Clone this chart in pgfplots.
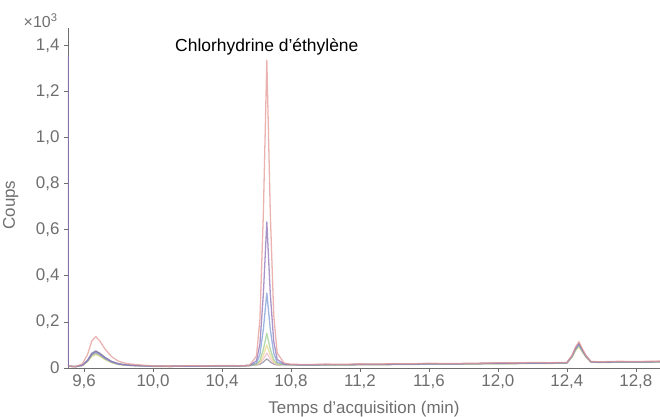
\documentclass[border=0pt]{standalone}
\usepackage{fontspec}
\setmainfont{Liberation Sans}
\usepackage{pgfplots}
\usepackage{pgfplotstable}
\pgfplotsset{compat=1.18}
\definecolor{cA}{HTML}{E39A96}
\definecolor{cB}{HTML}{8E72B5}
\definecolor{cC}{HTML}{7E9BD6}
\definecolor{cD}{HTML}{9CCC8F}
\definecolor{cE}{HTML}{ECD98A}
\definecolor{cF}{HTML}{F0B8C8}
\definecolor{cG}{HTML}{8A8894}
\definecolor{tickgray}{HTML}{6E6E6E}
\pgfplotstableread{
x      A     B     C     D     E     F     G
9.510  0.008 0.008 0.008 0.008 0.008 0.008 0.008
9.550  0.006 0.006 0.006 0.006 0.006 0.006 0.006
9.590  0.018 0.012 0.012 0.011 0.011 0.011 0.012
9.620  0.058 0.032 0.031 0.029 0.027 0.029 0.033
9.645  0.117 0.062 0.059 0.054 0.050 0.054 0.064
9.668  0.136 0.072 0.068 0.063 0.058 0.063 0.074
9.690  0.119 0.063 0.060 0.056 0.051 0.056 0.065
9.720  0.084 0.046 0.043 0.040 0.037 0.040 0.047
9.760  0.049 0.028 0.026 0.025 0.023 0.025 0.028
9.800  0.029 0.018 0.017 0.016 0.015 0.016 0.018
9.850  0.019 0.013 0.012 0.012 0.011 0.012 0.013
9.900  0.015 0.011 0.010 0.010 0.010 0.010 0.011
10.00  0.009 0.008 0.008 0.007 0.007 0.008 0.008
10.10  0.008 0.007 0.008 0.007 0.007 0.007 0.008
10.20  0.010 0.008 0.009 0.008 0.008 0.009 0.009
10.30  0.009 0.008 0.008 0.008 0.007 0.008 0.008
10.40  0.011 0.009 0.010 0.009 0.009 0.010 0.010
10.50  0.010 0.009 0.009 0.009 0.008 0.009 0.009
10.56  0.012 0.011 0.011 0.010 0.010 0.011 0.011
10.60  0.052 0.031 0.021 0.016 0.015 0.014 0.013
10.62  0.210 0.105 0.059 0.033 0.025 0.020 0.016
10.64  0.674 0.323 0.169 0.081 0.056 0.039 0.026
10.66  1.335 0.634 0.325 0.150 0.100 0.065 0.040
10.68  0.674 0.323 0.169 0.081 0.056 0.039 0.026
10.70  0.230 0.115 0.064 0.036 0.027 0.021 0.017
10.72  0.065 0.037 0.025 0.018 0.016 0.014 0.013
10.76  0.022 0.018 0.016 0.015 0.015 0.014 0.014
10.80  0.016 0.015 0.014 0.013 0.013 0.013 0.014
10.90  0.015 0.014 0.013 0.012 0.012 0.013 0.013
11.00  0.017 0.015 0.014 0.013 0.013 0.014 0.014
11.10  0.016 0.015 0.014 0.013 0.013 0.014 0.014
11.20  0.018 0.016 0.015 0.014 0.014 0.015 0.015
11.30  0.017 0.016 0.015 0.014 0.014 0.015 0.015
11.40  0.019 0.017 0.016 0.015 0.015 0.016 0.016
11.50  0.018 0.017 0.016 0.015 0.015 0.016 0.016
11.60  0.021 0.019 0.018 0.017 0.016 0.018 0.018
11.70  0.019 0.018 0.017 0.016 0.016 0.017 0.017
11.80  0.020 0.019 0.018 0.017 0.017 0.018 0.018
11.90  0.021 0.020 0.019 0.018 0.018 0.019 0.019
12.00  0.023 0.021 0.020 0.019 0.019 0.020 0.020
12.10  0.022 0.021 0.020 0.019 0.019 0.020 0.020
12.20  0.024 0.022 0.021 0.020 0.020 0.021 0.021
12.30  0.023 0.022 0.021 0.020 0.020 0.021 0.021
12.40  0.024 0.023 0.022 0.021 0.021 0.022 0.022
12.43  0.055 0.053 0.051 0.049 0.047 0.050 0.051
12.45  0.091 0.087 0.082 0.078 0.075 0.081 0.084
12.47  0.114 0.108 0.102 0.096 0.092 0.100 0.104
12.49  0.083 0.079 0.075 0.071 0.069 0.074 0.076
12.51  0.055 0.053 0.051 0.049 0.047 0.050 0.051
12.54  0.028 0.027 0.026 0.025 0.025 0.026 0.026
12.60  0.027 0.026 0.025 0.024 0.024 0.025 0.025
12.70  0.029 0.027 0.026 0.025 0.025 0.026 0.026
12.80  0.028 0.027 0.026 0.025 0.025 0.026 0.026
12.94  0.030 0.028 0.027 0.026 0.026 0.027 0.027
}\traces
\begin{document}
\begin{tikzpicture}
\begin{axis}[
  scale only axis, width=592bp, height=340bp,
  xmin=9.507, xmax=12.94, ymin=0, ymax=1.475,
  axis x line*=bottom, axis y line*=left,
  axis line style={-, draw=tickgray, line width=0.7pt},
  tick align=outside, major tick length=4bp,
  tick style={draw=tickgray, line width=0.6pt},
  xtick={9.6,10.0,10.4,10.8,11.2,11.6,12.0,12.4,12.8},
  xticklabels={{9,6},{10,0},{10,4},{10,8},{11,2},{11,6},{12,0},{12,4},{12,8}},
  ytick={0,0.2,0.4,0.6,0.8,1.0,1.2,1.4},
  yticklabels={0,{0,2},{0,4},{0,6},{0,8},{1,0},{1,2},{1,4}},
  /pgf/number format/assume math mode=true,
  tick label style={font=\fontsize{17}{19}\selectfont, text=tickgray},
  xticklabel style={yshift=1bp},
  yticklabel style={xshift=-1bp},
  xlabel={Temps d’acquisition (min)},
  ylabel={Coups},
  label style={font=\fontsize{17}{19}\selectfont, text=tickgray},
  xlabel style={at={(axis description cs:0.5,0)}, anchor=north, yshift=-30bp},
  ylabel style={at={(axis description cs:0,0.479)}, anchor=south, yshift=46bp},
  clip mode=individual,
  every axis plot/.append style={line width=1.3pt, opacity=0.75, line join=round},
]
\addplot[cG] table[x=x, y=G] {\traces};
\addplot[cF] table[x=x, y=F] {\traces};
\addplot[cE] table[x=x, y=E] {\traces};
\addplot[cD] table[x=x, y=D] {\traces};
\addplot[cC] table[x=x, y=C] {\traces};
\addplot[cB] table[x=x, y=B] {\traces};
\addplot[cA] table[x=x, y=A] {\traces};
\addplot[cB, line width=1.8pt] coordinates {(9.5085,1.354) (9.5085,0.004)};
\node[font=\fontsize{17.5}{20}\selectfont, text=black] at (axis cs:10.66,1.395) {Chlorhydrine d’éthylène};
\node[font=\fontsize{16}{18}\selectfont, text=tickgray, anchor=base east] at ([shift={(-7bp,0bp)}]rel axis cs:0,1) {×10\textsuperscript{3}};
\end{axis}
\pgfresetboundingbox
\path[use as bounding box] ([shift={(-68bp,-49bp)}]current axis.south west) rectangle ++(660bp,417bp);
\end{tikzpicture}
\end{document}
